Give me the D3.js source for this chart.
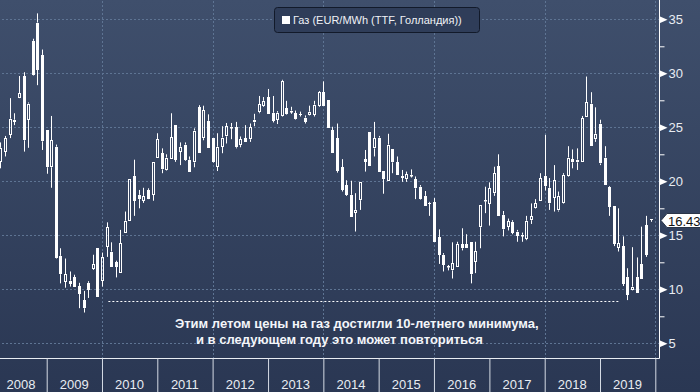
<!DOCTYPE html>
<html>
<head>
<meta charset="utf-8">
<script src="https://cdn.jsdelivr.net/npm/d3@7"></script>
<style>
body { margin: 0; background: #2c3a55; }
svg { display: block; font-family: "Liberation Sans", Arial, sans-serif; }
</style>
</head>
<body>
<div id="chart"></div>
<script>
// monthly candles, Mar 2008 .. Dec 2019
var firstMonth = new Date(2008, 2, 1);
var opens = [21.8,22.75,24.3,25.5,27.75,29.75,25.7,33.0,34.7,31.7,
  24.75,21.3,23.2,13.1,10.7,10.8,11.1,10.3,9.0,10.6,11.9,13.85,
  10.8,13.95,13.5,12.5,11.5,15.25,16.3,20.5,18.75,18.2,19.2,18.75,
  22.2,22.6,21.05,22.1,25.2,22.75,23.4,22.0,21.75,26.85,24.0,25.6,
  24.0,21.35,23.2,24.15,24.95,25.0,23.35,24.0,23.9,25.45,26.4,27.0,
  27.8,26.35,25.7,26.05,26.75,26.5,26.3,26.2,25.9,26.15,26.15,27.0,
  28.25,27.5,24.75,24.0,21.3,19.65,18.75,17.1,18.25,22.05,24.55,23.05,
  24.05,20.95,20.05,22.95,21.75,20.5,20.2,20.55,20.2,19.5,18.65,18.0,
  18.05,14.8,13.2,12.05,11.75,12.1,14.15,14.15,14.35,12.55,15.75,18.15,
  17.9,18.9,21.4,16.9,15.8,16.25,15.35,15.0,14.65,16.4,17.5,18.2,
  20.5,19.4,18.5,17.3,17.95,20.45,22.05,21.75,21.8,26.0,27.2,23.9,
  25.35,22.2,19.45,17.7,13.85,14.0,11.15,9.95,11.15,12.35,15.95,16.55];
var highs = [23.6,24.2,27.7,26.3,29.75,30.1,27.3,33.2,35.55,32.2,
  24.75,26.05,23.4,13.8,12.85,11.65,11.35,10.6,9.85,10.75,13.2,13.85,
  13.4,16.2,14.35,12.65,15.5,17.2,20.2,22.0,19.2,19.4,19.35,21.8,
  24.45,23.05,22.5,26.3,25.2,23.6,23.6,22.3,24.9,27.05,27.0,26.2,
  24.0,24.45,25.1,25.4,25.4,25.5,24.15,25.2,25.35,26.25,27.9,27.8,
  28.55,27.9,26.5,29.4,27.45,26.9,26.55,26.45,26.1,27.0,27.45,28.35,
  29.25,27.5,25.05,25.35,22.05,20.1,20.05,18.9,19.9,22.9,24.55,25.5,
  24.2,20.95,24.4,22.95,22.3,21.05,20.9,21.1,20.45,19.65,19.1,18.1,
  18.45,15.55,13.35,12.25,14.35,14.4,15.65,15.1,14.35,14.4,17.85,19.5,
  19.9,21.35,22.5,17.25,16.55,16.4,15.5,15.25,16.8,17.95,18.35,20.75,
  24.3,20.3,21.5,19.05,20.75,23.25,22.95,23.05,26.05,29.7,28.25,26.85,
  25.7,23.25,19.55,17.7,17.5,14.9,11.95,13.9,12.95,15.8,16.8,16.55];
var lows = [21.2,22.3,24.0,25.2,27.7,22.75,23.1,29.8,28.9,22.9,
  20.7,19.4,12.85,10.55,10.15,10.25,10.2,8.25,7.85,9.2,11.8,9.3,
  10.25,13.0,12.1,11.1,11.5,15.25,16.3,16.8,17.5,18.0,18.35,18.2,
  22.2,20.75,21.0,22.1,21.8,21.5,21.9,20.9,21.3,22.65,23.8,23.05,
  21.7,20.95,22.6,23.5,23.9,23.05,23.15,23.65,23.65,25.1,26.3,26.9,
  26.2,25.45,25.3,26.0,26.15,26.25,25.7,26.0,25.35,26.1,26.0,26.9,
  27.0,24.95,22.65,20.8,19.05,18.65,16.65,15.35,17.35,20.9,21.4,22.3,
  20.9,18.85,20.05,20.75,20.6,19.95,19.95,20.35,18.35,18.3,17.75,16.8,
  14.35,12.35,11.65,11.75,11.0,12.1,13.6,13.8,10.55,11.5,13.8,17.05,
  15.9,18.65,16.8,14.9,15.45,15.1,14.4,14.4,14.55,16.05,17.45,18.2,
  19.15,17.35,17.2,17.2,17.9,20.4,21.2,21.05,21.8,26.0,23.25,23.65,
  21.5,19.65,16.8,14.0,13.5,10.3,9.0,9.9,9.7,11.0,13.0,16.25];
var closes = [23.1,24.0,25.8,25.7,28.15,23.8,27.2,29.85,30.3,23.7,
  21.3,23.8,12.9,11.4,11.4,10.5,10.2,9.6,8.25,9.95,12.35,9.3,
  13.0,15.75,12.1,12.1,14.25,16.35,20.2,18.2,18.35,18.65,18.4,21.8,
  23.9,21.1,22.2,24.1,22.0,23.2,22.0,20.9,24.7,22.65,26.6,23.05,
  21.75,23.2,24.05,25.1,25.05,23.15,23.9,23.65,25.0,25.7,27.15,27.45,
  26.2,25.6,26.35,29.3,26.2,26.55,25.75,26.15,25.5,26.45,27.1,28.25,
  27.0,24.95,22.65,20.95,19.2,18.75,16.65,17.35,19.9,21.8,21.4,24.0,
  20.9,20.2,23.4,21.75,20.6,20.35,20.65,20.6,19.35,18.35,17.75,17.95,
  14.35,13.2,12.25,12.15,12.4,14.2,13.8,13.8,11.4,13.55,17.85,18.25,
  19.35,20.75,16.8,15.55,16.3,15.25,14.95,15.05,16.35,16.75,17.95,20.3,
  19.55,17.95,20.1,18.65,20.6,22.2,21.75,22.0,25.85,27.3,23.25,24.4,
  21.65,19.65,17.65,14.2,14.25,10.5,9.5,10.25,9.7,11.0,13.2,16.43];

var years = [2008,2009,2010,2011,2012,2013,2014,2015,2016,2017,2018,2019];
var gridYears = [2010,2012,2014,2016,2018,2020];
var yTicks = [5,10,15,20,25,30,35];
var yMinor = [7.5,12.5,17.5,22.5,27.5,32.5];
var lastPrice = 16.43;
var seriesName = "Газ (EUR/MWh (TTF, Голландия))";
var noteLines = ["Этим летом цены на газ достигли 10-летнего минимума,",
                 "и в следующем году это может повториться"];
var noteRange = [new Date(2010, 1, 12), new Date(2019, 4, 8)];
var noteLevel = 8.9;

var w = 700, h = 392;
var axisX = 659.5, baseY = 358.5;

var xScale = d3.scaleTime()
  .domain([new Date(2009, 0, 1), new Date(2020, 0, 1)])
  .range([46.7, 655.3]);

var yScale = d3.scaleLinear()
  .domain([5, 35])
  .range([343.3, 19.3]);

var svg = d3.select("#chart").append("svg")
  .attr("width", w)
  .attr("height", h);

// background gradient
var grad = svg.append("defs").append("linearGradient")
  .attr("id", "bg")
  .attr("x1", 0).attr("y1", 0).attr("x2", 0).attr("y2", 1);
grad.append("stop").attr("offset", "0%").attr("stop-color", "#3f4f6c");
grad.append("stop").attr("offset", "100%").attr("stop-color", "#2a3753");

svg.append("rect")
  .attr("width", w).attr("height", h)
  .attr("fill", "url(#bg)");

// horizontal grid
svg.append("g")
  .attr("class", "grid")
  .attr("transform", "translate(" + axisX + ",0)")
  .call(d3.axisLeft(yScale).tickValues(yTicks).tickSize(axisX).tickFormat(""))
  .call(function(g){ g.select(".domain").remove(); });

// vertical grid every two years
svg.append("g")
  .attr("class", "grid")
  .attr("transform", "translate(0," + baseY + ")")
  .call(d3.axisTop(xScale).tickValues(gridYears.map(function(y){ return new Date(y, 0, 1); }))
    .tickSize(baseY).tickFormat(""))
  .call(function(g){ g.select(".domain").remove(); });

svg.selectAll(".grid line")
  .attr("stroke", "#5e7493")
  .attr("stroke-dasharray", "2,2")
  .attr("shape-rendering", "crispEdges");

// annotation dotted line
svg.append("line")
  .attr("x1", xScale(noteRange[0]))
  .attr("x2", xScale(noteRange[1]))
  .attr("y1", Math.round(yScale(noteLevel)) + 0.5)
  .attr("y2", Math.round(yScale(noteLevel)) + 0.5)
  .attr("stroke", "#ffffff")
  .attr("stroke-dasharray", "2,2");

// candles
var candles = opens.map(function(o, i){
  return { date: d3.timeMonth.offset(firstMonth, i), open: o, high: highs[i], low: lows[i], close: closes[i] };
});

var cg = svg.append("g").selectAll("g")
  .data(candles)
  .enter()
  .append("g")
  .attr("transform", function(d){ return "translate(" + Math.round(xScale(d.date)) + ",0)"; });

cg.append("line")
  .attr("x1", 0.5).attr("x2", 0.5)
  .attr("y1", function(d){ return yScale(d.high); })
  .attr("y2", function(d){ return yScale(Math.max(d.open, d.close)); })
  .attr("stroke", "#fff");

cg.append("line")
  .attr("x1", 0.5).attr("x2", 0.5)
  .attr("y1", function(d){ return yScale(Math.min(d.open, d.close)); })
  .attr("y2", function(d){ return yScale(d.low); })
  .attr("stroke", "#fff");

cg.filter(function(d){ return d.close < d.open; })
  .append("rect")
  .attr("x", -1)
  .attr("width", 3)
  .attr("y", function(d){ return Math.round(yScale(d.open)); })
  .attr("height", function(d){ return Math.max(1, Math.round(yScale(d.close)) - Math.round(yScale(d.open))); })
  .attr("fill", "#fff");

cg.filter(function(d){ return d.close >= d.open; })
  .append("rect")
  .attr("x", -0.5)
  .attr("width", 2)
  .attr("y", function(d){ return Math.round(yScale(d.close)) + 0.5; })
  .attr("height", function(d){ return Math.max(0.5, Math.round(yScale(d.open)) - Math.round(yScale(d.close)) - 1); })
  .attr("fill", "none")
  .attr("stroke", "#fff");

// axis lines
svg.append("line")
  .attr("x1", axisX).attr("x2", axisX)
  .attr("y1", 0).attr("y2", baseY)
  .attr("stroke", "#fff");
svg.append("line")
  .attr("x1", 0).attr("x2", axisX)
  .attr("y1", baseY).attr("y2", baseY)
  .attr("stroke", "#e8ecf2");

// year separators and labels
svg.append("g")
  .attr("transform", "translate(0," + baseY + ")")
  .call(d3.axisBottom(xScale).ticks(d3.timeYear).tickSize(h - baseY).tickFormat(""))
  .call(function(g){
    g.select(".domain").remove();
    g.selectAll("line").attr("stroke", "#d5dbe4");
  });

svg.append("g").selectAll("text")
  .data(years)
  .enter()
  .append("text")
  .attr("x", function(d){ return Math.max(21, xScale(new Date(d, 6, 2))); })
  .attr("y", 389)
  .attr("text-anchor", "middle")
  .attr("font-size", 13)
  .attr("fill", "#e8ecf2")
  .text(function(d){ return d; });

// right axis: minor ticks, markers, labels
svg.append("g")
  .attr("transform", "translate(" + axisX + ",0)")
  .call(d3.axisRight(yScale).tickValues(yMinor).tickSize(5).tickFormat(""))
  .call(function(g){
    g.select(".domain").remove();
    g.selectAll("line").attr("stroke", "#fff");
  });

var yAxisG = svg.append("g")
  .attr("transform", "translate(" + axisX + ",0)")
  .call(d3.axisRight(yScale).tickValues(yTicks).tickSize(0).tickPadding(9))
  .call(function(g){ g.select(".domain").remove(); });

yAxisG.selectAll("text")
  .attr("font-family", "Liberation Sans, Arial, sans-serif")
  .attr("font-size", 13)
  .attr("fill", "#e8ecf2");

yAxisG.selectAll(".tick").append("path")
  .attr("d", "M0,-3.5L8,0L0,3.5Z")
  .attr("fill", "#fff");

// last price tag
var lp = Math.round(yScale(lastPrice)) + 0.5;
svg.append("path")
  .attr("d", "M661," + lp + "L667," + (lp - 7) + "L705," + (lp - 7) + "L705," + (lp + 7) + "L667," + (lp + 7) + "Z")
  .attr("fill", "#ffffff")
  .attr("stroke", "#2a3548");
svg.append("text")
  .attr("x", 668)
  .attr("y", lp + 5)
  .attr("font-size", 13)
  .attr("fill", "#111")
  .text(lastPrice.toFixed(2));

// legend
var lg = svg.append("g");
lg.append("rect")
  .attr("x", 274.5).attr("y", 7.5)
  .attr("width", 205).attr("height", 25)
  .attr("rx", 3)
  .attr("fill", "#2f3d59")
  .attr("stroke", "#121a2a");
lg.append("rect")
  .attr("x", 282).attr("y", 16)
  .attr("width", 8).attr("height", 8)
  .attr("fill", "#fff");
lg.append("text")
  .attr("x", 293).attr("y", 24)
  .attr("font-size", 11)
  .attr("fill", "#f0f2f6")
  .text(seriesName);

// annotation text
svg.append("g").selectAll("text")
  .data(noteLines)
  .enter()
  .append("text")
  .attr("x", function(d, i){ return i ? 196 : 175; })
  .attr("y", function(d, i){ return 328 + i * 15.5; })
  .attr("font-size", 13)
  .attr("font-weight", "bold")
  .attr("fill", "#f4f6fa")
  .text(function(d){ return d; });
</script>
</body>
</html>
